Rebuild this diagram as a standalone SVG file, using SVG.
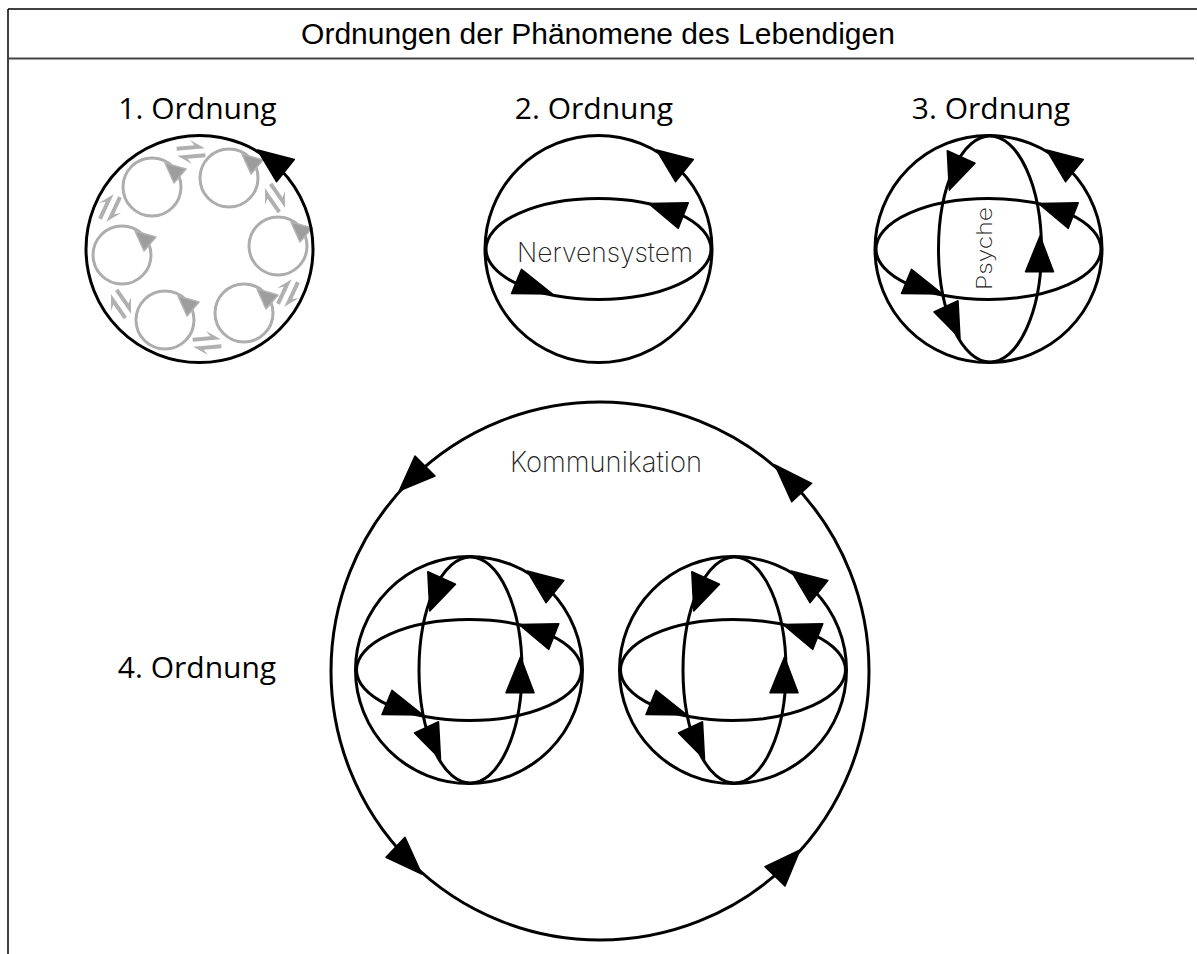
<svg xmlns="http://www.w3.org/2000/svg" xmlns:xlink="http://www.w3.org/1999/xlink" width="1197" height="954" viewBox="0 0 1197 954">
<style>
.ln{fill:none;stroke:#000;stroke-width:3}
.ah{fill:#000;stroke:#000;stroke-width:1.5;stroke-linejoin:round}
.gc{fill:none;stroke:#adadad;stroke-width:3}
.ga{fill:#9d9d9d;stroke:#b3b3b3;stroke-width:1.5;stroke-linejoin:round}
.eq{fill:#b0b0b0}
.lbl{font-family:"Open Sans","Noto Sans",sans-serif;font-size:30px;fill:#000;text-anchor:middle}
.thin{font-family:Inter,Lato,sans-serif;font-weight:200;fill:#222}
.title{font-family:"Liberation Sans",Arial,sans-serif;font-size:30px;fill:#000;text-anchor:middle}
</style>
<defs>
<polygon id="a1" class="ah" points="58.2,-99 94.8,-89.5 77,-67.3"/>
<polygon id="a2" class="ah" points="50,-45.5 89.8,-46.3 79.8,-20.7"/>
<polygon id="a3" class="ah" points="-46,45 -87,44.5 -77,20.3"/>
<g id="sphere3">
<circle class="ln" cx="0" cy="0" r="113.5"/>
<ellipse class="ln" cx="0" cy="0" rx="112.5" ry="50.5"/>
<ellipse class="ln" cx="1.5" cy="0" rx="51.5" ry="113"/>
<use xlink:href="#a1"/><use xlink:href="#a2"/><use xlink:href="#a3"/>
<polygon class="ah" points="-39.2,-59 -41.2,-98.3 -13.5,-85.7"/>
<polygon class="ah" points="-28.5,89.3 -54.5,63 -30.5,51.7"/>
<polygon class="ah" points="51.5,-13 37,22.7 65,22.7"/>
</g>
<g id="cell">
<circle class="gc" cx="0" cy="0" r="29"/>
<polygon class="ga" points="13,-24 34,-18 22,-4"/>
</g>
<g id="eqm">
<polygon class="eq" points="-14,-6.5 4,-6.5 0,-12 14,-2.5 -14,-2.5"/>
<polygon class="eq" points="14,6.5 -4,6.5 0,12 -14,2.5 14,2.5"/>
</g>
</defs>
<rect x="0" y="0" width="1197" height="954" fill="#fff"/>
<g id="frame">
<line x1="8" y1="9" x2="1197" y2="9" stroke="#000" stroke-width="1.5"/>
<line x1="8" y1="9" x2="8" y2="954" stroke="#000" stroke-width="1.5"/>
<line x1="8" y1="58.5" x2="1194" y2="58.5" stroke="#444" stroke-width="2"/>
<text class="title" x="598" y="44">Ordnungen der Phänomene des Lebendigen</text>
</g>
<g id="order1">
<text class="lbl" x="197.5" y="119">1. Ordnung</text>
<use xlink:href="#cell" x="152" y="187"/>
<use xlink:href="#cell" x="229" y="178"/>
<use xlink:href="#cell" x="278" y="246"/>
<use xlink:href="#cell" x="244" y="313"/>
<use xlink:href="#cell" x="165" y="320"/>
<use xlink:href="#cell" x="122" y="255"/>
<use xlink:href="#eqm" transform="translate(191,152) rotate(-5)"/>
<use xlink:href="#eqm" transform="translate(275,198) rotate(55)"/>
<use xlink:href="#eqm" transform="translate(288,293) rotate(115)"/>
<use xlink:href="#eqm" transform="translate(207,343) rotate(175)"/>
<use xlink:href="#eqm" transform="translate(121,304) rotate(235)"/>
<use xlink:href="#eqm" transform="translate(110,208) rotate(295)"/>
<g transform="translate(199.5,249)">
<circle class="ln" cx="0" cy="0" r="113.5"/>
<use xlink:href="#a1"/>
</g>
</g>
<g id="order2">
<text class="lbl" x="594" y="119">2. Ordnung</text>
<g transform="translate(598.5,249)">
<circle class="ln" cx="0" cy="0" r="113.5"/>
<ellipse class="ln" cx="0" cy="0" rx="112.5" ry="50.5"/>
<use xlink:href="#a1"/><use xlink:href="#a2"/><use xlink:href="#a3"/>
</g>
<text class="thin" x="517" y="261.5" font-size="27" textLength="176" lengthAdjust="spacingAndGlyphs">Nervensystem</text>
</g>
<g id="order3">
<text class="lbl" x="991" y="119">3. Ordnung</text>
<use xlink:href="#sphere3" x="988.5" y="249"/>
<text class="thin" transform="translate(991.5,290) rotate(-90)" font-size="21" textLength="83" lengthAdjust="spacingAndGlyphs">Psyche</text>
</g>
<g id="order4">
<text class="lbl" x="197" y="678">4. Ordnung</text>
<circle class="ln" cx="600" cy="671" r="269"/>
<polygon class="ah" points="399.3,490.7 415,456 435,476"/>
<polygon class="ah" points="775,465 811.7,483.3 791.7,501.7"/>
<polygon class="ah" points="421.7,874 405,837.3 386,857.3"/>
<polygon class="ah" points="800,850 765,866.7 785,886"/>
<text class="thin" x="510" y="471.5" font-size="29" textLength="192" lengthAdjust="spacingAndGlyphs">Kommunikation</text>
<use xlink:href="#sphere3" x="469" y="670"/>
<use xlink:href="#sphere3" x="733" y="670"/>
</g>
</svg>
